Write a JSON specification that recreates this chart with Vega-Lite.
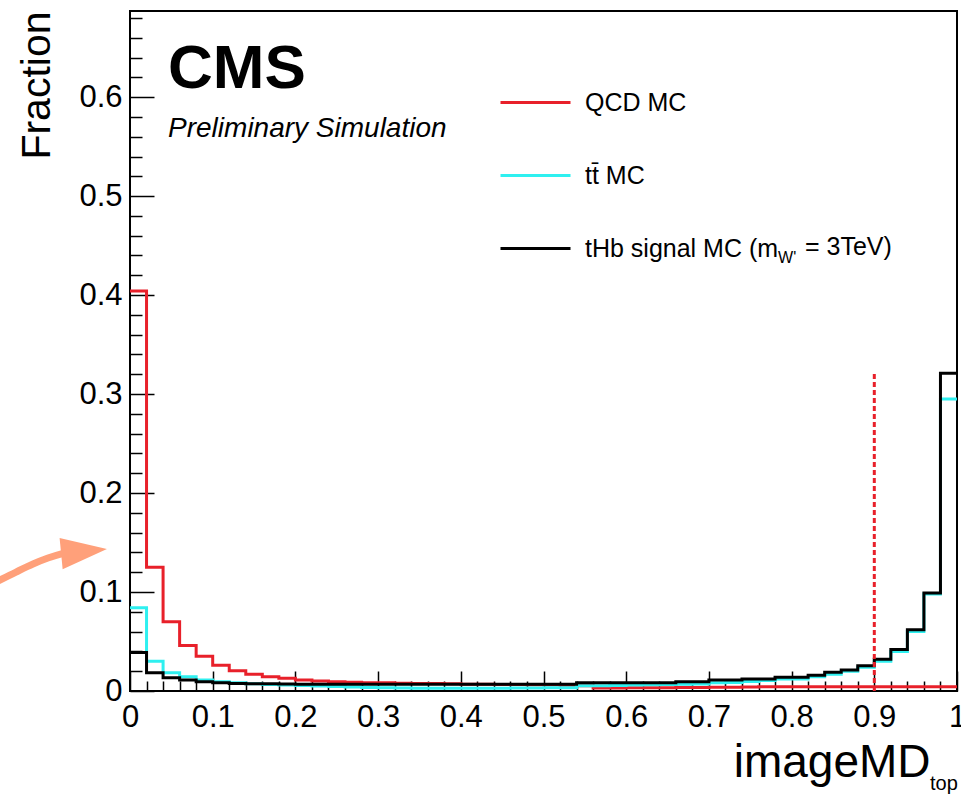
{
  "$schema": "https://vega.github.io/schema/vega-lite/v6.json",
  "width": 827,
  "height": 680,
  "autosize": {"type": "none"},
  "padding": {"left": 130, "top": 11, "right": 4, "bottom": 108},
  "background": "white",
  "config": {
    "view": {"stroke": "black", "strokeWidth": 2},
    "font": "Liberation Sans",
    "text": {"font": "Liberation Sans", "color": "black"}
  },
  "resolve": {"axis": {"x": "independent", "y": "independent"}},
  "datasets": {
    "hist": [
      {"lo": 0.00, "hi": 0.02, "qcd": 0.404, "ttbar": 0.084, "signal": 0.039},
      {"lo": 0.02, "hi": 0.04, "qcd": 0.125, "ttbar": 0.030, "signal": 0.0185},
      {"lo": 0.04, "hi": 0.06, "qcd": 0.070, "ttbar": 0.0185, "signal": 0.0135},
      {"lo": 0.06, "hi": 0.08, "qcd": 0.046, "ttbar": 0.0145, "signal": 0.011},
      {"lo": 0.08, "hi": 0.10, "qcd": 0.035, "ttbar": 0.011, "signal": 0.0094},
      {"lo": 0.10, "hi": 0.12, "qcd": 0.026, "ttbar": 0.0094, "signal": 0.0084},
      {"lo": 0.12, "hi": 0.14, "qcd": 0.0205, "ttbar": 0.0084, "signal": 0.0077},
      {"lo": 0.14, "hi": 0.16, "qcd": 0.017, "ttbar": 0.0072, "signal": 0.0074},
      {"lo": 0.16, "hi": 0.18, "qcd": 0.0145, "ttbar": 0.0066, "signal": 0.0072},
      {"lo": 0.18, "hi": 0.20, "qcd": 0.0128, "ttbar": 0.006, "signal": 0.0070},
      {"lo": 0.20, "hi": 0.22, "qcd": 0.011, "ttbar": 0.0055, "signal": 0.0069},
      {"lo": 0.22, "hi": 0.24, "qcd": 0.010, "ttbar": 0.005, "signal": 0.0068},
      {"lo": 0.24, "hi": 0.26, "qcd": 0.0094, "ttbar": 0.0045, "signal": 0.0067},
      {"lo": 0.26, "hi": 0.28, "qcd": 0.0088, "ttbar": 0.004, "signal": 0.0067},
      {"lo": 0.28, "hi": 0.30, "qcd": 0.0084, "ttbar": 0.0036, "signal": 0.0067},
      {"lo": 0.30, "hi": 0.32, "qcd": 0.0084, "ttbar": 0.0032, "signal": 0.0067},
      {"lo": 0.32, "hi": 0.34, "qcd": 0.0078, "ttbar": 0.003, "signal": 0.0067},
      {"lo": 0.34, "hi": 0.36, "qcd": 0.0077, "ttbar": 0.0028, "signal": 0.0067},
      {"lo": 0.36, "hi": 0.38, "qcd": 0.0076, "ttbar": 0.0028, "signal": 0.0067},
      {"lo": 0.38, "hi": 0.40, "qcd": 0.0072, "ttbar": 0.0028, "signal": 0.0067},
      {"lo": 0.40, "hi": 0.42, "qcd": 0.0068, "ttbar": 0.0028, "signal": 0.0067},
      {"lo": 0.42, "hi": 0.44, "qcd": 0.0067, "ttbar": 0.0028, "signal": 0.0067},
      {"lo": 0.44, "hi": 0.46, "qcd": 0.0066, "ttbar": 0.0029, "signal": 0.0067},
      {"lo": 0.46, "hi": 0.48, "qcd": 0.0065, "ttbar": 0.003, "signal": 0.0067},
      {"lo": 0.48, "hi": 0.50, "qcd": 0.0064, "ttbar": 0.0031, "signal": 0.0067},
      {"lo": 0.50, "hi": 0.52, "qcd": 0.0062, "ttbar": 0.0033, "signal": 0.0067},
      {"lo": 0.52, "hi": 0.54, "qcd": 0.0058, "ttbar": 0.0034, "signal": 0.0067},
      {"lo": 0.54, "hi": 0.56, "qcd": 0.0052, "ttbar": 0.0052, "signal": 0.0084},
      {"lo": 0.56, "hi": 0.58, "qcd": 0.0030, "ttbar": 0.0054, "signal": 0.0084},
      {"lo": 0.58, "hi": 0.60, "qcd": 0.0030, "ttbar": 0.0055, "signal": 0.0084},
      {"lo": 0.60, "hi": 0.62, "qcd": 0.0032, "ttbar": 0.006, "signal": 0.0084},
      {"lo": 0.62, "hi": 0.64, "qcd": 0.0033, "ttbar": 0.0063, "signal": 0.0084},
      {"lo": 0.64, "hi": 0.66, "qcd": 0.0034, "ttbar": 0.0065, "signal": 0.0084},
      {"lo": 0.66, "hi": 0.68, "qcd": 0.0035, "ttbar": 0.0068, "signal": 0.0094},
      {"lo": 0.68, "hi": 0.70, "qcd": 0.0036, "ttbar": 0.007, "signal": 0.0094},
      {"lo": 0.70, "hi": 0.72, "qcd": 0.0037, "ttbar": 0.0084, "signal": 0.011},
      {"lo": 0.72, "hi": 0.74, "qcd": 0.0038, "ttbar": 0.0086, "signal": 0.011},
      {"lo": 0.74, "hi": 0.76, "qcd": 0.0040, "ttbar": 0.0095, "signal": 0.012},
      {"lo": 0.76, "hi": 0.78, "qcd": 0.0042, "ttbar": 0.0105, "signal": 0.012},
      {"lo": 0.78, "hi": 0.80, "qcd": 0.0044, "ttbar": 0.012, "signal": 0.0138},
      {"lo": 0.80, "hi": 0.82, "qcd": 0.0044, "ttbar": 0.0122, "signal": 0.0138},
      {"lo": 0.82, "hi": 0.84, "qcd": 0.0044, "ttbar": 0.0145, "signal": 0.016},
      {"lo": 0.84, "hi": 0.86, "qcd": 0.0044, "ttbar": 0.017, "signal": 0.019},
      {"lo": 0.86, "hi": 0.88, "qcd": 0.0044, "ttbar": 0.020, "signal": 0.0212},
      {"lo": 0.88, "hi": 0.90, "qcd": 0.0044, "ttbar": 0.024, "signal": 0.0256},
      {"lo": 0.90, "hi": 0.92, "qcd": 0.0044, "ttbar": 0.030, "signal": 0.032},
      {"lo": 0.92, "hi": 0.94, "qcd": 0.0044, "ttbar": 0.040, "signal": 0.042},
      {"lo": 0.94, "hi": 0.96, "qcd": 0.0044, "ttbar": 0.060, "signal": 0.062},
      {"lo": 0.96, "hi": 0.98, "qcd": 0.0044, "ttbar": 0.098, "signal": 0.099},
      {"lo": 0.98, "hi": 1.00, "qcd": 0.0044, "ttbar": 0.295, "signal": 0.321}
    ],
    "arrow": [
      {"ax": -0.1645, "ay": 0.109},
      {"ax": -0.1378, "ay": 0.1202},
      {"ax": -0.1173, "ay": 0.1283},
      {"ax": -0.0992, "ay": 0.1343},
      {"ax": -0.0798, "ay": 0.1394},
      {"ax": -0.0700, "ay": 0.1414}
    ]
  },
  "layer": [
    {
      "data": {"name": "hist"},
      "transform": [
        {"fold": ["qcd", "ttbar", "signal"], "as": ["sample", "fraction"]},
        {"fold": ["lo", "hi"], "as": ["edge", "x"]}
      ],
      "mark": {"type": "line", "interpolate": "linear", "strokeWidth": 3, "strokeJoin": "miter", "strokeCap": "butt"},
      "encoding": {
        "x": {
          "field": "x", "type": "quantitative",
          "scale": {"domain": [0, 1], "nice": false, "zero": false},
          "axis": {
            "orient": "bottom",
            "title": "imageMD",
            "titleFont": "Liberation Sans", "titleFontSize": 46, "titleFontWeight": "normal", "titleColor": "black",
            "titleAnchor": "end", "titleAlign": "right", "titleBaseline": "alphabetic",
            "titleX": 800, "titleY": 85,
            "domain": false, "grid": false,
            "values": [0, 0.1, 0.2, 0.3, 0.4, 0.5, 0.6, 0.7, 0.8, 0.9, 1],
            "labelExpr": "datum.value == 0 ? '0' : datum.value == 1 ? '1' : format(datum.value, '.1f')",
            "tickSize": -20, "tickColor": "black", "tickWidth": 1.5,
            "labelFont": "Liberation Sans", "labelFontSize": 31, "labelColor": "black",
            "labelPadding": 31.5, "labelFlush": false, "labelOverlap": false
          }
        },
        "y": {
          "field": "fraction", "type": "quantitative",
          "scale": {"domain": [0, 0.687], "nice": false, "zero": false},
          "axis": {
            "orient": "left",
            "title": "Fraction",
            "titleFont": "Liberation Sans", "titleFontSize": 41, "titleFontWeight": "normal", "titleColor": "black",
            "titleAngle": -90, "titleAlign": "right", "titleBaseline": "alphabetic",
            "titleX": -81, "titleY": 0,
            "domain": false, "grid": false,
            "values": [0, 0.1, 0.2, 0.3, 0.4, 0.5, 0.6],
            "labelExpr": "datum.value == 0 ? '0' : format(datum.value, '.1f')",
            "tickSize": -24, "tickColor": "black", "tickWidth": 1.5,
            "labelFont": "Liberation Sans", "labelFontSize": 31, "labelColor": "black",
            "labelPadding": 32, "labelFlush": false, "labelOverlap": false
          }
        },
        "color": {
          "field": "sample", "type": "nominal",
          "scale": {"domain": ["qcd", "ttbar", "signal"], "range": ["#e8202a", "#2ef0f0", "#000000"]},
          "legend": {
            "orient": "none", "legendX": 369, "legendY": 55,
            "title": null,
            "symbolType": "stroke", "symbolSize": 4900, "symbolStrokeWidth": 3,
            "labelFont": "Liberation Sans", "labelFontSize": 25, "labelColor": "black",
            "labelOffset": 13, "labelLimit": 0, "rowPadding": 23,
            "labelExpr": "datum.label == 'qcd' ? 'QCD MC' : datum.label == 'ttbar' ? 'tt\u0304 MC' : 'tHb signal MC (m'"
          }
        },
        "order": [
          {"field": "x", "type": "quantitative"},
          {"field": "edge", "type": "nominal"}
        ]
      }
    },
    {
      "data": {"values": [{}]},
      "mark": {"type": "rule", "color": "#e8202a", "strokeWidth": 3, "strokeDash": [5, 3]},
      "encoding": {
        "x": {
          "datum": 0.9, "type": "quantitative",
          "axis": {
            "orient": "bottom", "title": null, "labels": false, "domain": false, "grid": false,
            "values": [0.02,0.04,0.06,0.08,0.12,0.14,0.16,0.18,0.22,0.24,0.26,0.28,0.32,0.34,0.36,0.38,0.42,0.44,0.46,0.48,0.52,0.54,0.56,0.58,0.62,0.64,0.66,0.68,0.72,0.74,0.76,0.78,0.82,0.84,0.86,0.88,0.92,0.94,0.96,0.98],
            "tickSize": -10, "tickColor": "black", "tickWidth": 1.5
          }
        },
        "y": {
          "datum": 0, "type": "quantitative",
          "axis": {
            "orient": "left", "title": null, "labels": false, "domain": false, "grid": false,
            "values": [0.02,0.04,0.06,0.08,0.12,0.14,0.16,0.18,0.22,0.24,0.26,0.28,0.32,0.34,0.36,0.38,0.42,0.44,0.46,0.48,0.52,0.54,0.56,0.58,0.62,0.64,0.66,0.68],
            "tickSize": -12, "tickColor": "black", "tickWidth": 1.5
          }
        },
        "y2": {"datum": 0.322}
      }
    },
    {
      "data": {"values": [{}]},
      "mark": {"type": "text", "text": "CMS", "fontSize": 62, "fontWeight": "bold", "align": "left", "baseline": "alphabetic"},
      "encoding": {
        "x": {"datum": 0.046, "type": "quantitative", "axis": null},
        "y": {"datum": 0.609, "type": "quantitative", "axis": null}
      }
    },
    {
      "data": {"values": [{}]},
      "mark": {"type": "text", "text": "Preliminary Simulation", "fontSize": 28, "fontStyle": "italic", "align": "left", "baseline": "alphabetic"},
      "encoding": {
        "x": {"datum": 0.046, "type": "quantitative", "axis": null},
        "y": {"datum": 0.5596, "type": "quantitative", "axis": null}
      }
    },
    {
      "data": {"values": [{}]},
      "mark": {"type": "text", "text": "W'", "fontSize": 16, "align": "left", "baseline": "alphabetic"},
      "encoding": {
        "x": {"datum": 0.7836, "type": "quantitative", "axis": null},
        "y": {"datum": 0.4323, "type": "quantitative", "axis": null}
      }
    },
    {
      "data": {"values": [{}]},
      "mark": {"type": "text", "text": "= 3TeV)", "fontSize": 25, "align": "left", "baseline": "middle"},
      "encoding": {
        "x": {"datum": 0.8162, "type": "quantitative", "axis": null},
        "y": {"datum": 0.4485, "type": "quantitative", "axis": null}
      }
    },
    {
      "data": {"values": [{}]},
      "mark": {"type": "text", "text": "top", "fontSize": 20, "align": "left", "baseline": "alphabetic"},
      "encoding": {
        "x": {"datum": 0.9674, "type": "quantitative", "axis": null},
        "y": {"datum": -0.1, "type": "quantitative", "axis": null}
      }
    },
    {
      "data": {"name": "arrow"},
      "mark": {"type": "line", "interpolate": "monotone", "color": "#ffa07a", "strokeWidth": 7, "strokeCap": "butt"},
      "encoding": {
        "x": {"field": "ax", "type": "quantitative", "axis": null},
        "y": {"field": "ay", "type": "quantitative", "axis": null}
      }
    },
    {
      "data": {"values": [{}]},
      "mark": {"type": "point", "shape": "M1,0L-1,-0.68L-1,0.68Z", "filled": true, "size": 2116, "angle": -5.6, "color": "#ffa07a", "opacity": 1, "strokeWidth": 0},
      "encoding": {
        "x": {"datum": -0.0556, "type": "quantitative", "axis": null},
        "y": {"datum": 0.1411, "type": "quantitative", "axis": null}
      }
    }
  ]
}
